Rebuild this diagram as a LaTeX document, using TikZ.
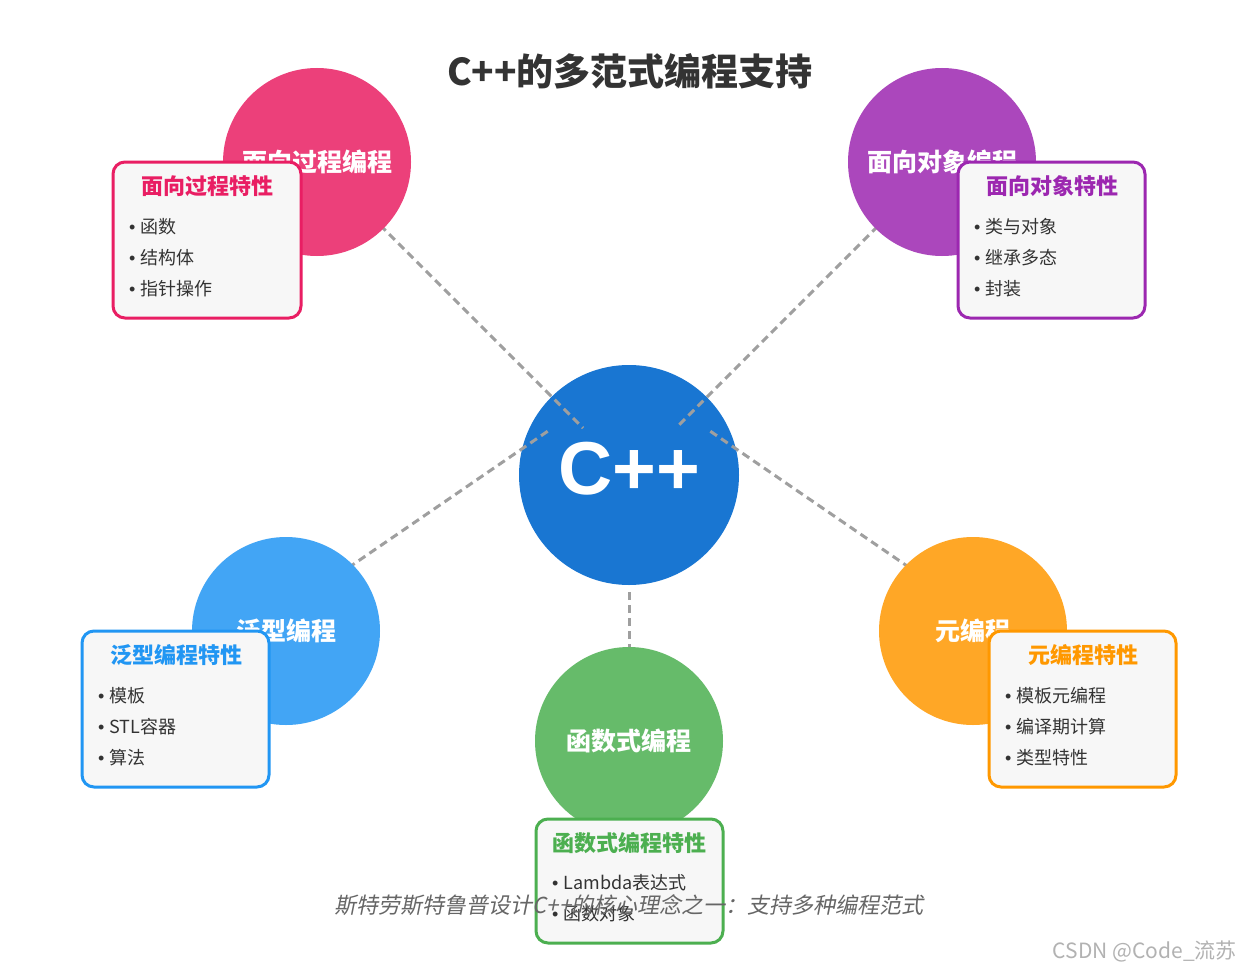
\documentclass[tikz,border=0pt]{standalone}
\usepackage{fontspec}
\setmainfont{Noto Sans CJK SC}
\newfontfamily\cjkit{Noto Sans CJK SC}[FakeSlant=0.2]
\newfontfamily\libsans{Liberation Sans}
\newcommand{\bul}{{\libsans •}\hspace{5pt}}
\definecolor{pinkc}{HTML}{EC407A}\definecolor{pinkb}{HTML}{E91E63}
\definecolor{purc}{HTML}{AB47BC}\definecolor{purb}{HTML}{9C27B0}
\definecolor{bluec}{HTML}{42A5F5}\definecolor{blueb}{HTML}{2196F3}
\definecolor{orac}{HTML}{FFA726}\definecolor{orab}{HTML}{FF9800}
\definecolor{grnc}{HTML}{66BB6A}\definecolor{grnb}{HTML}{4CAF50}
\definecolor{cppc}{HTML}{1976D2}
\definecolor{txt}{HTML}{333333}
\definecolor{cardbg}{HTML}{F7F7F7}
\tikzset{
  bub/.style={circle, minimum size=188pt, inner sep=0pt},
  bublabel/.style={text=white, font=\fontsize{25}{28}\selectfont\bfseries},
  card/.style={draw=#1, line width=3pt, rounded corners=12pt, fill=cardbg},
  cardtitle/.style={text=#1, font=\fontsize{22}{25}\selectfont\bfseries},
  item/.style={anchor=west, text=txt, font=\fontsize{18}{21}\selectfont, inner sep=0pt},
  link/.style={draw=gray!75, line width=3pt, dash pattern=on 8pt off 5pt}
}
\begin{document}
\begin{tikzpicture}[x=1pt,y=-1pt]
\fill[white] (0,0) rectangle (1241,971);
\useasboundingbox (0,0) rectangle (1241,971);

% title
\node[text=txt, font=\fontsize{37}{40}\selectfont\bfseries] (title) at (630,71) {C++的多范式编程支持};

% central
\node[circle, minimum size=220pt, inner sep=0pt, fill=cppc] (cpp) at (629,475) {};
\node[text=white, font=\libsans\fontsize{75}{80}\selectfont\bfseries] (cpplabel) at (629,469) {C++};

% links
\coordinate (l1a) at (380,225); \coordinate (l1b) at (583,428);
\coordinate (l2a) at (878,226); \coordinate (l2b) at (676,428);
\coordinate (l3a) at (348,568); \coordinate (l3b) at (548,431);
\coordinate (l4a) at (910,568); \coordinate (l4b) at (710,431);
\coordinate (l5a) at (629,592); \coordinate (l5b) at (629,648);
\draw[link] (l1a) -- (l1b);
\draw[link] (l2a) -- (l2b);
\draw[link] (l3a) -- (l3b);
\draw[link] (l4a) -- (l4b);
\draw[link] (l5a) -- (l5b);

% top-left: procedural
\node[bub, fill=pinkc] (proc) at (317,162) {};
\node[bublabel] (proclabel) at (317,162) {面向过程编程};
\draw[card=pinkb] (113,162) rectangle (301,318);
\node[cardtitle=pinkb] (proct) at (207,186) {面向过程特性};
\node[item] (proc1) at (129,227) {\bul 函数};
\node[item] (proc2) at (129,258) {\bul 结构体};
\node[item] (proc3) at (129,289) {\bul 指针操作};

% top-right: OOP
\node[bub, fill=purc] (oop) at (942,162) {};
\node[bublabel] (ooplabel) at (942,162) {面向对象编程};
\draw[card=purb] (958,162) rectangle (1145,318);
\node[cardtitle=purb] (oopt) at (1052,186) {面向对象特性};
\node[item] (oop1) at (974,227) {\bul 类与对象};
\node[item] (oop2) at (974,258) {\bul 继承多态};
\node[item] (oop3) at (974,289) {\bul 封装};

% bottom-left: generic
\node[bub, fill=bluec] (gen) at (286,631) {};
\node[bublabel] (genlabel) at (286,631) {泛型编程};
\draw[card=blueb] (82,631) rectangle (269,787);
\node[cardtitle=blueb] (gent) at (176,655) {泛型编程特性};
\node[item] (gen1) at (98,696) {\bul 模板};
\node[item] (gen2) at (98,727) {\bul STL容器};
\node[item] (gen3) at (98,758) {\bul 算法};

% bottom-right: meta
\node[bub, fill=orac] (meta) at (973,631) {};
\node[bublabel] (metalabel) at (973,631) {元编程};
\draw[card=orab] (989,631) rectangle (1176,787);
\node[cardtitle=orab] (metat) at (1083,655) {元编程特性};
\node[item] (meta1) at (1005,696) {\bul 模板元编程};
\node[item] (meta2) at (1005,727) {\bul 编译期计算};
\node[item] (meta3) at (1005,758) {\bul 类型特性};

% bottom: functional
\node[bub, fill=grnc] (fun) at (629,741) {};
\node[bublabel] (funlabel) at (629,741) {函数式编程};
\draw[card=grnb] (536,819) rectangle (723,943);
\node[cardtitle=grnb] (funt) at (629,843) {函数式编程特性};
\node[item] (fun1) at (552,883) {\bul Lambda表达式};
\node[item] (fun2) at (552,914) {\bul 函数对象};

% caption
\node[text=black!60, font=\cjkit\fontsize{22}{26}\selectfont] (caption) at (629,905) {斯特劳斯特鲁普设计C++的核心理念之一：支持多种编程范式};

% watermark
\node[text=black!30, font=\fontsize{21}{24}\selectfont, anchor=east, inner sep=0pt] (wm) at (1237,951) {CSDN @Code\_流苏};
\end{tikzpicture}
\end{document}
